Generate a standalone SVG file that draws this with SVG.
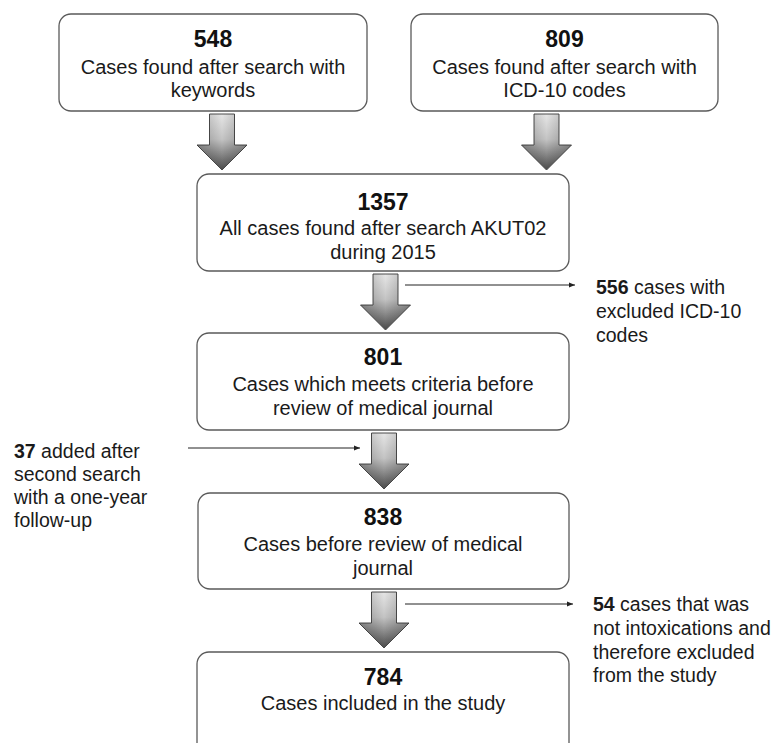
<svg xmlns="http://www.w3.org/2000/svg" width="781" height="743" viewBox="0 0 781 743">
<defs>
<linearGradient id="ag" x1="0" y1="0" x2="0" y2="1">
<stop offset="0" stop-color="#e6e6e6"/>
<stop offset="0.45" stop-color="#c4c4c4"/>
<stop offset="1" stop-color="#4a4a4a"/>
</linearGradient>
<linearGradient id="ah" x1="0" y1="0" x2="1" y2="0">
<stop offset="0" stop-color="#000" stop-opacity="0.25"/>
<stop offset="0.5" stop-color="#000" stop-opacity="0"/>
<stop offset="1" stop-color="#000" stop-opacity="0.25"/>
</linearGradient>
<marker id="m" viewBox="0 0 10 10" refX="10" refY="5" markerWidth="6" markerHeight="6" orient="auto" markerUnits="userSpaceOnUse">
<path d="M0,1 L10,5 L0,9 z" fill="#222"/>
</marker>
<path id="bigArrow" d="M-12.5,0 H12.5 V31 H25 L0,56 L-25,31 H-12.5 Z"/>
</defs>
<style>
.box{fill:#fff;stroke:#5a5a5a;stroke-width:1.3}
.t{font-family:"Liberation Sans",Arial,sans-serif;font-size:20px;fill:#1a1a1a;text-anchor:middle}
.n{font-family:"Liberation Sans",Arial,sans-serif;font-size:23px;font-weight:bold;fill:#111;text-anchor:middle}
.s{font-family:"Liberation Sans",Arial,sans-serif;font-size:19.5px;fill:#1a1a1a}
.b{font-weight:bold}
.ln{stroke:#222;stroke-width:1;fill:none}
.arr{fill:url(#ag);stroke:#4a4a4a;stroke-width:1}
.arrs{fill:url(#ah);stroke:none}
</style>

<g id="node-548">
<rect class="box" x="59" y="14" width="308" height="97" rx="12"/>
<text class="n" x="213" y="47">548</text>
<text class="t" x="213" y="74">Cases found after search with</text>
<text class="t" x="213" y="97">keywords</text>
</g>

<g id="node-809">
<rect class="box" x="411" y="14" width="307" height="97" rx="12"/>
<text class="n" x="564.5" y="47">809</text>
<text class="t" x="564.5" y="74">Cases found after search with</text>
<text class="t" x="564.5" y="97">ICD-10 codes</text>
</g>

<g id="node-1357">
<rect class="box" x="197" y="174" width="372" height="97" rx="12"/>
<text class="n" x="383" y="210">1357</text>
<text class="t" x="383" y="235">All cases found after search AKUT02</text>
<text class="t" x="383" y="259">during 2015</text>
</g>

<g id="node-801">
<rect class="box" x="197" y="333" width="372" height="97" rx="12"/>
<text class="n" x="383" y="365">801</text>
<text class="t" x="383" y="391">Cases which meets criteria before</text>
<text class="t" x="383" y="415">review of medical journal</text>
</g>

<g id="node-838">
<rect class="box" x="198" y="493" width="371" height="96" rx="12"/>
<text class="n" x="383" y="525">838</text>
<text class="t" x="383" y="551">Cases before review of medical</text>
<text class="t" x="383" y="575">journal</text>
</g>

<g id="node-784">
<rect class="box" x="197" y="652" width="372" height="110" rx="12"/>
<text class="n" x="383" y="685">784</text>
<text class="t" x="383" y="710">Cases included in the study</text>
</g>

<g id="note-556">
<text class="s" x="596" y="294"><tspan class="b">556</tspan> cases with</text>
<text class="s" x="596" y="318">excluded ICD-10</text>
<text class="s" x="596" y="342">codes</text>
</g>

<g id="note-37">
<text class="s" x="14" y="458"><tspan class="b">37</tspan> added after</text>
<text class="s" x="14" y="481">second search</text>
<text class="s" x="14" y="504">with a one-year</text>
<text class="s" x="14" y="527">follow-up</text>
</g>

<g id="note-54">
<text class="s" x="593" y="611"><tspan class="b">54</tspan> cases that was</text>
<text class="s" x="593" y="635">not intoxications and</text>
<text class="s" x="593" y="659">therefore excluded</text>
<text class="s" x="593" y="682">from the study</text>
</g>

<g id="connectors">
<g transform="translate(222,114)"><use href="#bigArrow" class="arr"/><use href="#bigArrow" class="arrs"/></g>
<g transform="translate(546.5,114)"><use href="#bigArrow" class="arr"/><use href="#bigArrow" class="arrs"/></g>
<g transform="translate(385.5,274)"><use href="#bigArrow" class="arr"/><use href="#bigArrow" class="arrs"/></g>
<g transform="translate(384,433)"><use href="#bigArrow" class="arr"/><use href="#bigArrow" class="arrs"/></g>
<g transform="translate(384,592)"><use href="#bigArrow" class="arr"/><use href="#bigArrow" class="arrs"/></g>
<line class="ln" x1="405" y1="285" x2="575" y2="285" marker-end="url(#m)"/>
<line class="ln" x1="188" y1="448" x2="360" y2="448" marker-end="url(#m)"/>
<line class="ln" x1="405" y1="604" x2="573" y2="604" marker-end="url(#m)"/>
</g>
</svg>
